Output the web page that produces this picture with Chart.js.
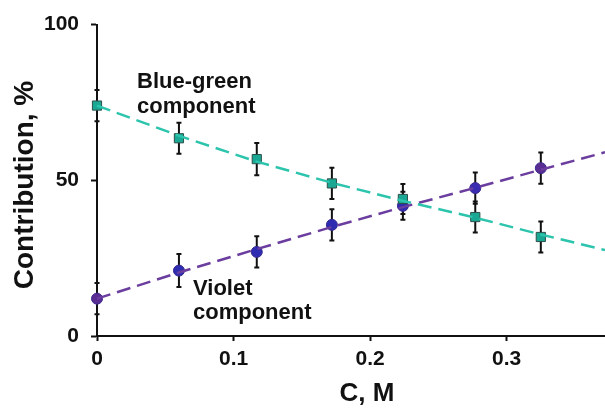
<!DOCTYPE html>
<html>
<head>
<meta charset="utf-8">
<script src="https://cdn.jsdelivr.net/npm/chart.js@4.4.0/dist/chart.umd.min.js"></script>
<style>
  html, body { margin: 0; padding: 0; background: #fff; overflow: hidden; }
  #wrap { width: 605px; height: 412px; position: relative; }
  canvas { display: block; }
</style>
</head>
<body>
<div id="wrap"><canvas id="chartContrib"></canvas></div>
<script>
// concentration, M
const concentration = [0, 0.06, 0.117, 0.172, 0.224, 0.277, 0.325];
// contribution, %
const blueGreen = [74, 63.5, 56.8, 49, 44, 38.2, 31.8];
const violet = [12, 21, 27, 35.7, 41.8, 47.5, 53.9];
const blueGreenErr = [5, 5, 5.2, 5, 4.8, 5, 5];
const violetErr = [5, 5.3, 5, 5, 4.5, 5, 5];
// dashed fit curves
const fitX = [0, 0.06, 0.117, 0.172, 0.224, 0.277, 0.325, 0.372];
const blueGreenFit = [74, 64.3, 56, 49.2, 43.4, 38, 32.6, 27.6];
const violetFit = [12, 20.4, 27.9, 35, 41.4, 47.6, 53.4, 59];
const xTicks = [0, 0.1, 0.2, 0.3];
const yTicks = [0, 50, 100];

const el = (id) => document.getElementById(id);
const FONT = "'Liberation Sans', Arial, sans-serif";
const TEAL = "#2cc4ad";
const VIOLET = "#6a3d9e";

const toXY = (xs, ys) => xs.map((x, i) => ({ x, y: ys[i] }));

// error bars, drawn under the markers
const errorBars = {
  id: "errorBars",
  beforeDatasetsDraw(chart) {
    const { ctx, scales: { x, y } } = chart;
    ctx.save();
    ctx.strokeStyle = "#111";
    ctx.lineWidth = 2;
    const draw = (vals, errs) => {
      vals.forEach((v, i) => {
        const px = x.getPixelForValue(concentration[i]);
        const top = y.getPixelForValue(v + errs[i]);
        const bot = y.getPixelForValue(v - errs[i]);
        ctx.beginPath();
        ctx.moveTo(px, top); ctx.lineTo(px, bot);
        ctx.moveTo(px - 2.5, top); ctx.lineTo(px + 2.5, top);
        ctx.moveTo(px - 2.5, bot); ctx.lineTo(px + 2.5, bot);
        ctx.stroke();
      });
    };
    draw(blueGreen, blueGreenErr);
    draw(violet, violetErr);
    ctx.restore();
  },
};

// labels and axis titles
const labelsPlugin = {
  id: "labelsPlugin",
  afterDraw(chart) {
    const { ctx } = chart;
    ctx.save();
    ctx.fillStyle = "#111";
    ctx.textAlign = "left";
    ctx.textBaseline = "alphabetic";
    ctx.font = "bold 22px " + FONT;
    ctx.fillText("Blue-green", 137, 88);
    ctx.fillText("component", 137, 113);
    ctx.fillText("Violet", 193, 295);
    ctx.fillText("component", 193, 319);

    ctx.textAlign = "center";
    ctx.textBaseline = "middle";
    ctx.font = "bold 26px " + FONT;
    ctx.fillText("C, M", 367, 394);

    ctx.translate(25, 185);
    ctx.rotate(-Math.PI / 2);
    ctx.font = "bold 28px " + FONT;
    ctx.fillText("Contribution, %", 0, 0);
    ctx.restore();
  },
};

function renderChart() {
  const ctx = el("chartContrib").getContext("2d");
  new Chart(ctx, {
    type: "scatter",
    data: {
      datasets: [
        {
          label: "Blue-green fit",
          data: toXY(fitX, blueGreenFit),
          showLine: true,
          borderColor: TEAL,
          borderWidth: 2.5,
          borderDash: [14, 7],
          pointRadius: 0,
          clip: false,
        },
        {
          label: "Violet fit",
          data: toXY(fitX, violetFit),
          showLine: true,
          borderColor: VIOLET,
          borderWidth: 2.5,
          borderDash: [14, 7],
          pointRadius: 0,
          clip: false,
        },
        {
          label: "Blue-green component",
          data: toXY(concentration, blueGreen),
          pointStyle: "rect",
          pointRadius: 6.5,
          pointBackgroundColor: "#1aa894",
          pointBorderColor: "#2d4f4a",
          pointBorderWidth: 1,
          clip: false,
        },
        {
          label: "Violet component",
          data: toXY(concentration, violet),
          pointStyle: "circle",
          pointRadius: 5.5,
          pointBackgroundColor: ["#5a2d92", "#2e2cb0", "#2e2cb0", "#2e2cb0", "#2e2cb0", "#3a2cb0", "#5a2d92"],
          pointBorderColor: "#3a2a90",
          pointBorderWidth: 1,
          clip: false,
        },
      ],
    },
    options: {
      responsive: true,
      maintainAspectRatio: false,
      animation: false,
      layout: { autoPadding: false, padding: { top: 24, right: 0, left: 0, bottom: 0 } },
      plugins: { legend: { display: false }, tooltip: { enabled: false } },
      scales: {
        x: {
          type: "linear",
          min: 0,
          max: 0.372,
          afterFit: (s) => { s.height = 76; s.paddingRight = 0; s.paddingLeft = 0; },
          afterBuildTicks: (s) => { s.ticks = xTicks.map((v) => ({ value: v })); },
          grid: { drawOnChartArea: false, drawTicks: true, tickLength: 5, tickWidth: 2, tickColor: "#111" },
          border: { color: "#111", width: 2 },
          ticks: {
            color: "#111",
            padding: 6,
            font: { family: FONT, size: 21, weight: "bold" },
            callback: (v) => String(v),
          },
        },
        y: {
          min: 0,
          max: 100,
          afterFit: (s) => { s.width = 97; },
          afterBuildTicks: (s) => { s.ticks = yTicks.map((v) => ({ value: v })); },
          grid: { drawOnChartArea: false, drawTicks: true, tickLength: 6, tickWidth: 2, tickColor: "#111" },
          border: { color: "#111", width: 2 },
          ticks: {
            color: "#111",
            padding: 12,
            font: { family: FONT, size: 21, weight: "bold" },
          },
        },
      },
    },
    plugins: [errorBars, labelsPlugin],
  });
}

document.addEventListener("DOMContentLoaded", () => {
  renderChart();
});
</script>
</body>
</html>
